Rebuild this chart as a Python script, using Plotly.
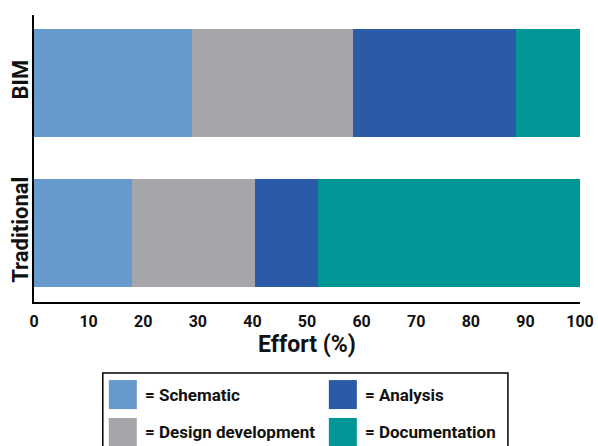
import plotly.graph_objects as go

# effort share per project phase (%)
categories = ['Traditional', 'BIM']
phases = ['Schematic', 'Design development', 'Analysis', 'Documentation']
colors = ['#6699CC', '#A5A6A9', '#2B5BA8', '#009796']
schematic = [18, 29]
design_development = [22.5, 29.5]
analysis = [11.5, 29.8]
documentation = [48, 11.7]
values = [schematic, design_development, analysis, documentation]
tick_vals = [0, 10, 20, 30, 40, 50, 60, 70, 80, 90, 100]

FONT = 'Roboto'

fig = go.Figure()
for name, vals, col in zip(phases, values, colors):
    fig.add_trace(
        go.Bar(
            y=categories,
            x=vals,
            name=name,
            orientation='h',
            marker_color=col,
            marker_line_width=0,
            showlegend=False,
            width=0.72,
        )
    )

fig.update_layout(
    width=598,
    height=446,
    barmode='stack',
    plot_bgcolor='white',
    paper_bgcolor='white',
    margin=dict(l=34, r=18, t=15, b=144, autoexpand=False),
    font=dict(family=FONT, color='#111111'),
    xaxis=dict(
        range=[0, 100],
        tickvals=tick_vals,
        showgrid=False,
        zeroline=False,
        showline=True,
        linecolor='black',
        linewidth=2,
        ticks='',
        automargin=False,
        ticklabelstandoff=4,
        ticklabeloverflow='allow',
        tickfont=dict(size=16, family=FONT, weight='bold'),
        title=dict(text='Effort (%)', font=dict(size=23, family=FONT, weight='bold'), standoff=2),
    ),
    yaxis=dict(
        range=[-0.46, 1.453],
        showgrid=False,
        zeroline=False,
        showline=True,
        linecolor='black',
        linewidth=2,
        ticks='',
        automargin=False,
        tickangle=-90,
        ticklabelstandoff=-5,
        ticklabeloverflow='allow',
        tickfont=dict(size=22, family=FONT, weight='bold'),
    ),
)

# legend box drawn below the axis, 2 x 2 grid with large swatches
fig.add_shape(type='rect', xref='paper', yref='paper',
              x0=0.126, x1=0.868, y0=-0.53, y1=-0.247,
              line=dict(color='black', width=1.5), fillcolor='white')

legend_pos = {
    'Schematic': (0.137, -0.272),
    'Analysis': (0.540, -0.272),
    'Design development': (0.137, -0.404),
    'Documentation': (0.540, -0.404),
}
sw = 28 / 546
sh = 29 / 287
for name, col in zip(phases, colors):
    x0, y1 = legend_pos[name]
    fig.add_shape(type='rect', xref='paper', yref='paper',
                  x0=x0, x1=x0 + sw, y0=y1 - sh, y1=y1,
                  line=dict(width=0), fillcolor=col)
    fig.add_annotation(xref='paper', yref='paper', x=x0 + sw + 6 / 546, y=y1 - sh / 2,
                       text='= ' + name, showarrow=False, xanchor='left', yanchor='middle',
                       font=dict(size=17, family=FONT, weight='bold', color='#111111'))

# drop the default 8px body margin so the figure fills the window exactly
fig.write_html('out.html',
               config={'displayModeBar': False},
               post_script="document.body.style.margin='0';document.body.style.overflow='hidden';")
